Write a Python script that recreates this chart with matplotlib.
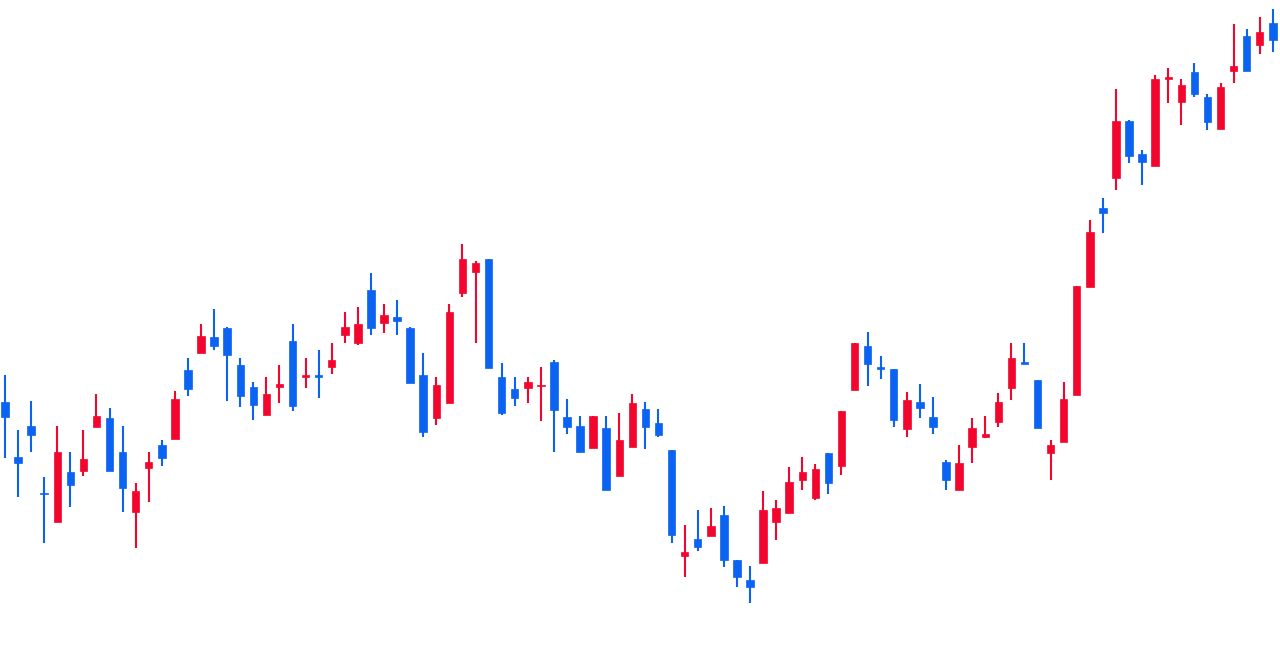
import matplotlib
matplotlib.use("Agg")
import matplotlib.pyplot as plt
from matplotlib.patches import Rectangle

# OHLC per session (price units)
opens = [298, 243, 274, 207, 178, 228, 229, 273, 282, 248,
         188, 232, 255, 261, 330, 347, 363, 372, 335, 313,
         285, 313, 359, 323, 325, 333, 365, 357, 410, 377,
         383, 372, 325, 282, 297, 407, 428, 441, 323, 311,
         312, 314, 338, 283, 274, 252, 272, 224, 253, 291,
         277, 250, 144, 161, 164, 185, 140, 120, 137, 178,
         187, 220, 202, 247, 234, 310, 354, 333, 331, 271,
         298, 283, 238, 210, 253, 263, 278, 312, 338, 320,
         247, 258, 305, 413, 492, 522, 579, 546, 534, 621,
         598, 628, 603, 571, 629, 664, 655, 677]
highs = [325, 270, 299, 223, 274, 248, 270, 306, 292, 274,
         217, 248, 260, 309, 342, 376, 391, 373, 342, 318,
         323, 335, 376, 342, 350, 357, 388, 393, 427, 396,
         400, 373, 347, 323, 396, 456, 439, 441, 337, 323,
         323, 333, 340, 301, 284, 284, 284, 287, 306, 298,
         291, 250, 175, 190, 192, 194, 140, 134, 209, 200,
         233, 243, 236, 247, 289, 357, 368, 344, 331, 308,
         316, 303, 240, 255, 282, 284, 307, 357, 357, 320,
         260, 318, 414, 480, 502, 611, 580, 550, 625, 632,
         621, 637, 606, 617, 676, 671, 683, 691]
lows = [242, 203, 248, 157, 178, 193, 224, 273, 229, 188,
        152, 198, 234, 261, 304, 347, 350, 299, 293, 280,
        285, 297, 289, 312, 302, 326, 357, 355, 365, 367,
        365, 317, 263, 275, 297, 403, 357, 332, 285, 294,
        297, 279, 248, 266, 248, 252, 210, 224, 253, 251,
        263, 157, 123, 149, 164, 133, 113, 97, 137, 160,
        187, 210, 200, 206, 225, 310, 314, 321, 273, 263,
        282, 266, 210, 210, 237, 262, 273, 300, 336, 272,
        220, 258, 305, 413, 467, 510, 537, 515, 534, 597,
        575, 603, 570, 571, 617, 629, 646, 648]
closes = [283, 237, 265, 206, 248, 215, 241, 284, 229, 212,
          209, 238, 242, 301, 311, 364, 354, 345, 304, 295,
          306, 316, 294, 325, 323, 340, 373, 376, 372, 385,
          379, 317, 268, 315, 388, 441, 437, 332, 287, 302,
          318, 315, 290, 273, 248, 284, 210, 260, 297, 273,
          265, 165, 148, 153, 174, 140, 123, 113, 190, 192,
          218, 228, 231, 217, 289, 357, 336, 331, 280, 300,
          292, 273, 220, 237, 272, 266, 298, 342, 336, 272,
          255, 301, 414, 468, 487, 579, 544, 538, 621, 623,
          615, 606, 578, 613, 634, 629, 668, 660]

UP = "#F2062E"
DOWN = "#0B63F2"

fig = plt.figure(figsize=(12.8, 6.7), dpi=100)
ax = fig.add_axes([0, 0, 1, 1])

body_w = 0.57
for i, (o, h, l, c) in enumerate(zip(opens, highs, lows, closes)):
    col = UP if c >= o else DOWN
    ax.plot([i, i], [l, h], color=col, lw=1.5, solid_capstyle="butt", zorder=1)
    bottom = min(o, c)
    height = max(abs(c - o), 1.5)
    ax.add_patch(Rectangle((i - body_w / 2, bottom), body_w, height,
                           facecolor=col, edgecolor=col, lw=0.5, zorder=2))

ax.set_xlim(-0.38, 97.55)
ax.set_ylim(30, 700)
ax.axis("off")

fig.savefig("out.png", dpi=100, facecolor="white")
